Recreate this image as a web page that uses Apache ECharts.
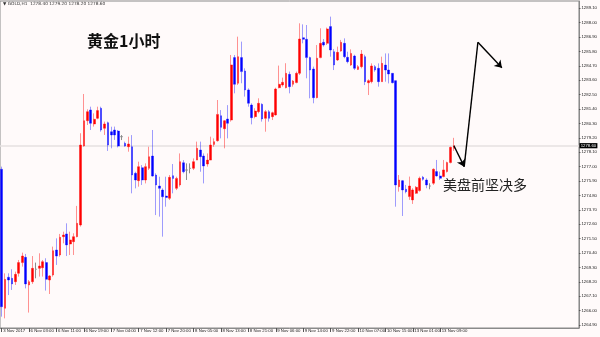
<!DOCTYPE html>
<html>
<head>
<meta charset="utf-8">
<script src="https://cdn.jsdelivr.net/npm/echarts@6/dist/echarts.min.js"></script>
<style>
html,body{margin:0;padding:0;background:#fffafa;}
#chart{width:600px;height:337px;}
</style>
</head>
<body>
<div id="chart"></div>
<script>
// ---- data (GOLD, H1) ----
var opens = [1276.80,1266.18,1268.55,1268.47,1268.21,1268.85,1269.67,1270.07,1267.96,1268.21,
1269.16,1269.23,1269.28,1269.67,1268.34,1268.72,1270.63,1270.25,1271.65,1271.86,
1271.09,1271.27,1271.65,1272.54,1278.58,1280.51,1281.33,1280.26,1280.69,1281.46,
1279.93,1280.36,1279.67,1279.80,1279.72,1279.29,1278.78,1278.52,1278.52,1276.49,
1275.93,1276.92,1275.98,1276.87,1277.81,1276.36,1275.52,1275.21,1274.75,1274.58,
1276.31,1275.34,1275.60,1277.30,1276.74,1276.87,1276.87,1277.50,1278.27,1277.81,
1277.20,1277.50,1278.70,1278.98,1280.89,1279.90,1280.64,1280.56,1285.33,1283.37,
1285.33,1284.31,1282.86,1281.71,1280.82,1281.20,1281.76,1280.69,1281.20,1280.82,
1280.95,1283.03,1283.24,1283.03,1284.05,1283.29,1283.42,1284.13,1286.85,1286.73,
1285.33,1284.46,1282.27,1285.33,1286.50,1286.42,1287.70,1285.78,1285.15,1285.83,
1286.42,1285.35,1284.76,1285.45,1284.43,1284.64,1285.40,1283.41,1283.49,1284.64,
1284.51,1283.49,1284.76,1284.38,1284.13,1283.57,1275.47,1275.93,1275.27,1274.71,
1274.46,1274.96,1275.17,1276.19,1275.98,1275.52,1275.73,1276.62,1276.29,1276.24,
1276.62,1277.31,1278.40];
var highs = [1277.00,1268.85,1268.85,1269.16,1268.98,1269.87,1270.43,1270.33,1268.34,1270.17,
1269.67,1270.38,1269.87,1270.00,1268.72,1270.89,1271.52,1271.86,1272.03,1272.67,
1272.03,1271.91,1274.00,1279.55,1282.55,1281.38,1281.58,1281.07,1281.58,1281.58,
1280.44,1280.44,1280.05,1280.06,1279.80,1279.41,1278.91,1279.29,1279.41,1276.61,
1277.38,1277.12,1277.25,1278.52,1279.80,1276.49,1276.23,1275.34,1276.23,1276.36,
1277.20,1276.23,1278.01,1277.50,1277.25,1277.25,1277.63,1278.91,1278.91,1278.01,
1278.01,1279.29,1279.16,1282.09,1281.32,1280.56,1281.70,1285.53,1285.53,1286.93,
1286.55,1284.51,1282.98,1281.84,1281.46,1282.22,1281.84,1281.33,1281.33,1281.20,
1283.03,1284.72,1283.80,1284.90,1284.26,1283.62,1284.26,1287.95,1287.87,1287.82,
1285.40,1284.64,1286.29,1287.57,1286.75,1287.62,1288.46,1285.99,1286.17,1286.68,
1286.80,1285.78,1285.96,1285.55,1284.76,1285.91,1285.55,1283.67,1284.89,1284.76,
1284.89,1285.40,1285.65,1285.65,1284.13,1283.60,1276.36,1275.98,1275.60,1276.24,
1275.35,1275.52,1276.24,1276.29,1276.11,1275.73,1276.87,1277.51,1276.62,1277.51,
1277.38,1278.53,1279.20];
var lows = [1265.54,1265.41,1267.19,1267.58,1267.96,1268.60,1269.36,1267.70,1265.85,1268.04,
1268.47,1268.60,1268.60,1267.53,1267.27,1268.60,1269.49,1270.12,1271.14,1270.17,
1270.25,1270.25,1271.60,1272.42,1278.53,1280.18,1279.80,1280.06,1280.62,1279.67,
1279.42,1278.20,1278.40,1279.04,1278.47,1279.03,1278.52,1278.14,1274.96,1275.34,
1275.47,1275.60,1275.72,1276.74,1276.23,1273.30,1273.18,1271.65,1273.94,1274.45,
1274.96,1275.21,1275.47,1276.49,1275.98,1276.49,1276.74,1277.50,1276.61,1275.72,
1277.00,1277.50,1278.52,1278.91,1279.16,1278.40,1279.16,1280.44,1282.60,1283.24,
1283.37,1282.35,1281.58,1280.23,1280.69,1281.07,1280.44,1279.67,1280.44,1280.56,
1280.90,1282.98,1283.11,1282.98,1282.60,1283.11,1283.37,1284.00,1286.42,1283.75,
1282.22,1281.84,1282.22,1285.28,1286.17,1286.29,1285.40,1284.38,1285.07,1285.78,
1285.28,1284.89,1284.69,1284.38,1284.38,1284.51,1283.23,1282.47,1283.36,1284.25,
1283.11,1283.49,1283.49,1283.36,1283.36,1273.94,1275.09,1273.23,1274.96,1274.46,
1274.15,1274.91,1275.09,1275.93,1275.35,1275.27,1275.60,1276.24,1275.98,1276.19,
1276.55,1277.25,1278.20];
var closes = [1266.30,1268.39,1268.34,1268.04,1268.77,1269.67,1270.17,1268.04,1268.21,1269.23,
1269.16,1269.41,1269.74,1268.39,1268.65,1270.58,1270.17,1271.60,1271.78,1271.02,
1271.40,1271.65,1272.67,1278.65,1280.51,1281.20,1280.31,1280.62,1281.28,1279.80,
1280.26,1278.65,1279.42,1279.42,1278.57,1279.29,1278.57,1278.73,1276.36,1275.98,
1277.00,1275.98,1277.00,1277.76,1276.28,1275.60,1275.34,1274.70,1274.65,1276.18,
1276.10,1276.10,1277.38,1276.61,1276.74,1276.87,1277.38,1278.40,1277.76,1277.05,
1277.50,1278.65,1278.91,1280.99,1280.00,1280.51,1280.31,1284.77,1283.29,1285.40,
1284.26,1282.86,1281.84,1280.74,1281.25,1281.84,1280.64,1281.20,1280.69,1281.12,
1282.93,1283.29,1283.44,1284.13,1283.11,1283.54,1284.13,1286.75,1286.73,1285.33,
1284.38,1282.27,1285.28,1286.42,1286.29,1287.52,1285.91,1284.77,1285.73,1286.50,
1285.40,1285.02,1285.65,1284.51,1284.64,1285.60,1283.49,1283.57,1284.69,1284.38,
1283.49,1284.89,1284.38,1284.08,1283.41,1275.60,1275.98,1275.22,1275.09,1275.52,
1275.22,1275.42,1276.11,1276.03,1275.60,1275.52,1276.80,1276.29,1276.11,1276.75,
1277.31,1278.48,1278.60];
var timeLabels = ['3 Nov 2017','6 Nov 03:00','6 Nov 11:00','6 Nov 19:00','7 Nov 04:00','7 Nov 12:00',
'7 Nov 20:00','8 Nov 05:00','8 Nov 13:00','8 Nov 21:00','9 Nov 06:00','9 Nov 14:00','9 Nov 22:00',
'10 Nov 07:00','10 Nov 15:00','13 Nov 01:00','13 Nov 09:00'];
var priceTicks = [1264.90,1266.00,1267.10,1268.20,1269.30,1270.40,1271.50,1272.60,1273.70,1274.80,
1275.90,1277.00,1278.10,1279.20,1280.30,1281.40,1282.50,1283.60,1284.70,1285.80,1286.90,1288.00,1289.10];
var currentPrice = 1278.60;
var arrowPath = [[132,1278.60],[135,1277.00],[139,1286.50],[146,1284.55]];
var titleText = '黄金1小时';
var noteText = '美盘前坚决多';
var headerText = '▼ GOLD,H1  1278.40 1279.20 1278.20 1278.60';
var barsPerLabel = 8;
var totalSlots = 169; // bars + empty right shift area

// ---- build ----
var cats = [];
for (var i = 0; i < totalSlots; i++) cats.push(String(i));
var ohlc = opens.map(function (o, k) { return [o, closes[k], lows[k], highs[k]]; });

function isLabelIdx(idx) { return idx % barsPerLabel === 0 && idx / barsPerLabel < timeLabels.length; }

var arrowSegs = [];
for (var s = 0; s < arrowPath.length - 1; s++) {
  var endSym = (s === 1) ? 'none' : 'arrow';
  arrowSegs.push([
    { coord: arrowPath[s], symbol: 'none' },
    { coord: arrowPath[s + 1], symbol: endSym, symbolSize: 7 }
  ]);
}

var chart = echarts.init(document.getElementById('chart'), null, { renderer: 'canvas' });
chart.setOption({
  animation: false,
  backgroundColor: '#fffafa',
  grid: { left: 0, top: 1, right: 18, bottom: 9, show: true, borderColor: '#8a8a8a', borderWidth: 1, containLabel: false },
  xAxis: {
    type: 'category', data: cats, boundaryGap: true,
    axisLine: { show: true, lineStyle: { color: '#8a8a8a', width: 1 } },
    axisTick: { show: true, alignWithLabel: true, length: 4, interval: function (idx) { return isLabelIdx(idx); }, lineStyle: { color: '#555' } },
    axisLabel: {
      interval: function (idx) { return isLabelIdx(idx); },
      formatter: function (v) { return timeLabels[Math.round(+v / barsPerLabel)]; },
      align: 'left', fontSize: 4.3, color: '#222', margin: 1.2, padding: [0, 0, 0, 1.5],
      fontFamily: 'Liberation Sans'
    },
    splitLine: { show: false }
  },
  yAxis: {
    type: 'value', position: 'right', scale: true,
    min: 1264.673, max: 1289.654,
    splitLine: { show: false },
    axisLine: { show: true, lineStyle: { color: '#8a8a8a' } },
    axisTick: { show: true, length: 1.5, customValues: priceTicks, lineStyle: { color: '#555' } },
    axisLabel: {
      customValues: priceTicks,
      formatter: function (v) { return v.toFixed(2); },
      fontSize: 4.3, color: '#222', margin: 2.5, fontFamily: 'Liberation Sans'
    }
  },
  graphic: [
    { type: 'text', left: 3, top: 2, style: { text: headerText, fontSize: 4.3, fill: '#333', fontFamily: 'DejaVu Sans' } },
    { type: 'text', left: 87, top: 33, style: { text: titleText, fontSize: 16, fontWeight: 'bold', fill: '#111', fontFamily: 'Noto Sans CJK SC' } },
    { type: 'text', left: 443, top: 178, style: { text: noteText, fontSize: 14, fill: '#222', fontFamily: 'Noto Sans CJK SC' } }
  ],
  series: [
    {
      type: 'line', data: [], z: 1, silent: true,
      markLine: {
        silent: true, z: 1, symbol: ['none', 'none'],
        lineStyle: { color: '#e6e0e0', width: 1.5, type: 'solid' },
        label: {
          show: true, position: 'end', distance: 0.5,
          formatter: function () { return currentPrice.toFixed(2); },
          backgroundColor: '#000', color: '#fff', fontSize: 4.3, padding: [0.6, 1.2], fontFamily: 'Liberation Sans'
        },
        data: [{ yAxis: currentPrice }]
      }
    },
    {
      type: 'candlestick', data: ohlc, barWidth: 2.2, z: 3, silent: true,
      itemStyle: {
        color: '#ff0000', color0: '#0000ff',
        borderColor: 'rgba(255,0,0,0.42)', borderColor0: 'rgba(0,0,255,0.38)',
        borderColorDoji: '#8c8c8c', borderWidth: 1
      }
    },
    {
      type: 'line', data: [], z: 5, silent: true,
      markLine: {
        silent: true, z: 6,
        lineStyle: { color: '#000', width: 1.4, type: 'solid' },
        label: { show: false },
        data: arrowSegs
      }
    }
  ]
});
</script>
</body>
</html>
